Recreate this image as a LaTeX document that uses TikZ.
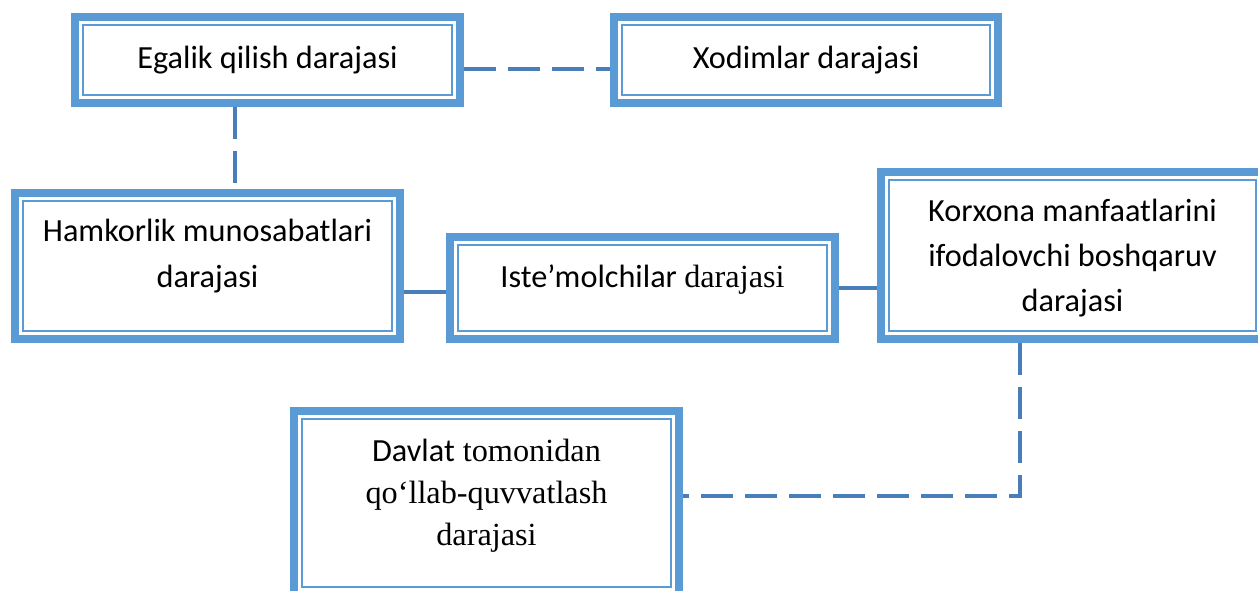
\documentclass[tikz,border=0pt]{standalone}
\usepackage{fontspec}
\setmainfont{Liberation Serif}
\setsansfont{Carlito}
\definecolor{bandc}{RGB}{91,155,213}
\definecolor{linec}{RGB}{74,126,187}
\tikzset{
  lvl/.style={draw=bandc, line width=6pt, fill=white, inner sep=0pt, align=center,
    font=\fontsize{24.2}{34}\selectfont\sffamily,
    path picture={\draw[draw=bandc, line width=1.4pt]
      ([shift={(6.2pt,6.2pt)}]path picture bounding box.south west) rectangle
      ([shift={(-6.2pt,-6.2pt)}]path picture bounding box.north east);}},
  solidc/.style={draw=linec, line width=2.3pt},
  dashc/.style={solidc, dash pattern=on 24pt off 9pt},
}
\begin{document}
\begin{tikzpicture}[x=0.75pt, y=-0.75pt]
\useasboundingbox (0,0) rectangle (1258,591);
\clip (0,0) rectangle (1258,591);
\fill[white] (0,0) rectangle (1258,591);

\node[lvl, minimum width=385*0.75pt, minimum height=86*0.75pt] (egalik) at (267.5,60) {Egalik qilish darajasi};
\node[lvl, minimum width=384*0.75pt, minimum height=86*0.75pt] (xodim) at (806,60) {Xodimlar darajasi};
\node[lvl, minimum width=385*0.75pt, minimum height=146*0.75pt, text depth=19pt] (hamk) at (207.5,266) {Hamkorlik munosabatlari\\darajasi};
\node[lvl, minimum width=385*0.75pt, minimum height=102*0.75pt, text depth=18pt] (iste) at (642.5,288) {Iste’molchilar {\rmfamily darajasi}};
\node[lvl, minimum width=383*0.75pt, minimum height=167*0.75pt, text depth=0.5pt] (korx) at (1072.5,255.5) {Korxona manfaatlarini\\ifodalovchi boshqaruv\\darajasi};
\node[lvl, minimum width=385*0.75pt, minimum height=184*0.75pt, text depth=16pt, font=\fontsize{24.2}{31.5}\selectfont\rmfamily] (davlat) at (486.5,503) {{\sffamily Davlat} tomonidan\\qo‘llab-quvvatlash\\darajasi};

\coordinate (e1) at ([yshift=-6.75pt]egalik.east);
\draw[dashc] (e1) -- (e1 -| xodim.west);
\coordinate (e2) at ([xshift=-24.4pt]egalik.south);
\draw[dashc] (e2) -- (e2 |- hamk.north);
\coordinate (h1) at ([yshift=-3pt]iste.west);
\draw[solidc] (h1 -| hamk.east) -- (h1);
\draw[solidc] (iste.east) -- (iste.east -| korx.west);
\coordinate (k1) at ([xshift=-39.4pt]korx.south);
\coordinate (d1) at ([yshift=5.25pt]davlat.east);
\draw[dashc] (k1) -- (k1 |- d1) -- (d1);
\end{tikzpicture}
\end{document}
